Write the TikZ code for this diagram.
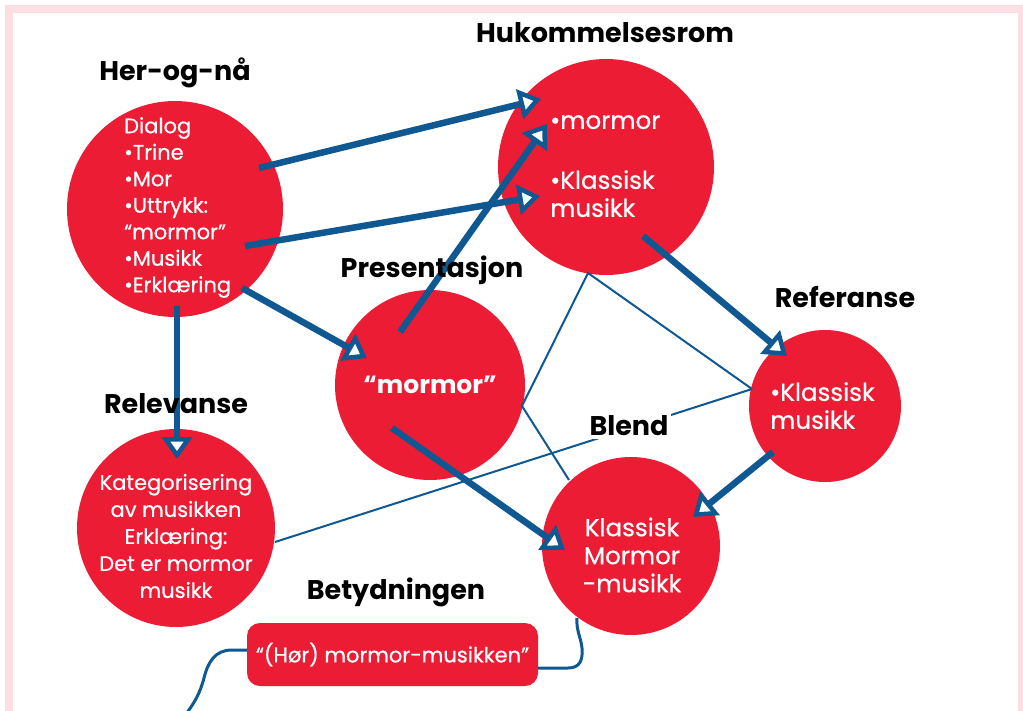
\documentclass[tikz,border=0pt]{standalone}
\usepackage{fontspec}
\setmainfont{Poppins}
\newfontfamily\mediumface{Poppins}[FakeBold=0.6]
\usetikzlibrary{arrows.meta,calc}
\definecolor{disred}{RGB}{236,28,52}
\definecolor{disblue}{RGB}{16,88,145}
\definecolor{framepink}{RGB}{252,222,227}

\begin{document}
\begin{tikzpicture}[x=1pt,y=-1pt,
  bubble/.style={circle,fill=disred,inner sep=0pt,minimum size=#1},
  heading/.style={font=\fontsize{27}{30}\selectfont\bfseries,text=black,inner sep=1pt},
  smalltext/.style={font=\mediumface\fontsize{21}{26.5}\selectfont,text=white,inner sep=0pt},
  largetext/.style={font=\mediumface\fontsize{24.5}{28}\selectfont,text=white,inner sep=0pt},
  flow/.style={draw=disblue,line width=6.5pt,
    -{Triangle[length=22pt,width=30pt,fill=white,line width=4.5pt]}},
  link/.style={draw=disblue,line width=2pt},
  wire/.style={draw=disblue,line width=3pt}
]
\useasboundingbox (0,0) rectangle (1023,710);

% frame
\fill[framepink] (5,5) rectangle (1023,720);
\fill[white] (13,13) rectangle (1018,720);

% bubbles
\node[bubble=216pt] (her) at (175,209) {};
\node[bubble=216pt] (hu)  at (606,167) {};
\node[bubble=190pt] (pre) at (430,385) {};
\node[bubble=152pt] (ref) at (825,406) {};
\node[bubble=178pt] (bl)  at (631,546) {};
\node[bubble=198pt] (rel) at (176,528) {};
\node[fill=disred,rounded corners=13pt,minimum width=291pt,minimum height=63pt,inner sep=0pt]
  (box) at (392.5,654.5) {};

% thin links between the spaces
\coordinate (hub)  at ($(hu)+(-18,106)$);
\coordinate (prer) at ($(pre)+(92,21)$);
\coordinate (refl) at ($(ref)+(-73,-17)$);
\coordinate (blt)  at ($(bl)+(-62,-66)$);
\coordinate (relr) at ($(rel)+(99,14)$);
\draw[link] (prer) -- (hub) -- (refl);
\draw[link] (prer) -- (blt);
\draw[link] (relr) -- (refl);

% curved wires to the meaning box
\coordinate (wl) at ($(box)+(-145.5,-4.5)$);
\coordinate (wr) at ($(box)+(145.5,13.5)$);
\coordinate (wend) at (186,714);
\coordinate (wtop) at ($(bl)+(-54,72)$);
\draw[wire] (wl) -- (232,650) .. controls (215,650) and (208,662) .. (204,678)
  .. controls (200,693) and (195,702) .. (wend);
\draw[wire] (wr) -- (568,668) .. controls (580,668) and (583,660) .. (582,648)
  .. controls (581,638) and (576,630) .. (wtop);

% thick arrows
\draw[flow] ($(her)+(84,-41)$) -- ($(hu)+(-65,-68)$);
\draw[flow] ($(her)+(70,37)$) -- ($(hu)+(-66,29)$);
\draw[flow] ($(pre)+(-30,-53)$) -- ($(hu)+(-59,-43)$);
\draw[flow] ($(her)+(67,79)$) -- ($(pre)+(-63,-27)$);
\draw[flow] ($(her)+(2,97)$) -- ($(rel)+(1,-69)$);
\draw[flow] ($(hu)+(37,69)$) -- ($(ref)+(-38,-50)$);
\draw[flow] ($(ref)+(-52,46)$) -- ($(bl)+(62,-29)$);
\draw[flow] ($(pre)+(-38,43)$) -- ($(bl)+(-66,4)$);

% headings
\node[heading] (t-her) at (175,73) {Her-og-nå};
\node[heading] (t-hu)  at (605,33) {Hukommelsesrom};
\node[heading] (t-pre) at (432,270) {Presentasjon};
\node[heading] (t-ref) at (845,297) {Referanse};
\node[heading] (t-rel) at (176,404) {Relevanse};
\node[heading,fill=white,inner sep=3pt] (t-bl) at (629,426) {Blend};
\node[heading] (t-bet) at (396,592) {Betydningen};

% bubble contents
\node[smalltext,align=left,anchor=north west] (x-her) at (124,117)
  {Dialog\\•Trine\\•Mor\\•Uttrykk:\\“mormor”\\•Musikk\\•Erklæring};
\node[largetext,align=left,anchor=north west] (x-hu) at (550,115)
  {•mormor\\[32pt]•Klassisk\\musikk};
\node[largetext,font=\fontsize{25}{28}\selectfont\bfseries] (x-pre) at (430,385) {“mormor”};
\node[largetext,align=left,anchor=north west] (x-ref) at (770,382)
  {•Klassisk\\musikk};
\node[largetext,align=center] (x-bl) at (632,555)
  {Klassisk\\Mormor\\-musikk};
\node[smalltext,font=\mediumface\fontsize{21}{27}\selectfont,align=center] (x-rel) at (176,536)
  {Kategorisering\\av musikken\\Erklæring:\\Det er mormor\\musikk};
\node[smalltext,font=\mediumface\fontsize{21}{24}\selectfont] (x-box) at (box) {“(Hør) mormor-musikken”};
\end{tikzpicture}
\end{document}
